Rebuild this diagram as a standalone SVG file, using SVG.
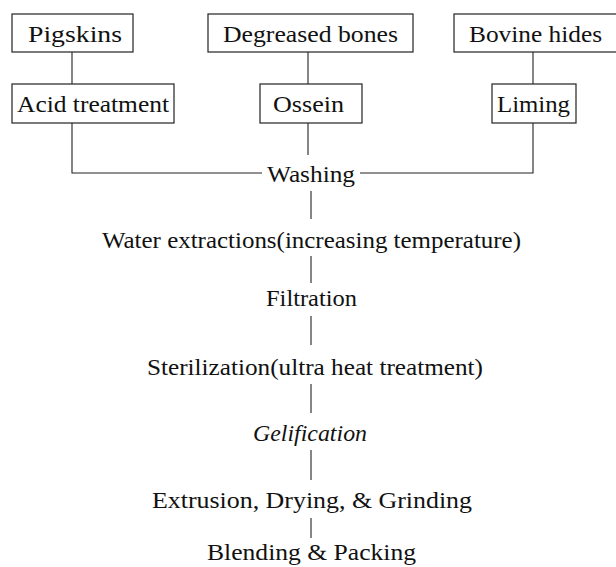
<svg xmlns="http://www.w3.org/2000/svg" width="616" height="567" viewBox="0 0 616 567">
<style>
.box{fill:#fff;stroke:#222;stroke-width:1.2}
.t{font-family:"Liberation Serif","Times New Roman",serif;font-size:24px;fill:#111}
.i{font-style:italic}
.c{stroke:#222;stroke-width:1.1;fill:none}
</style>
<rect width="616" height="567" fill="#fff"/>
<g id="connectors">
<line class="c" x1="72" y1="52" x2="72" y2="84"/>
<line class="c" x1="308" y1="52" x2="308" y2="84"/>
<line class="c" x1="533" y1="52" x2="533" y2="84"/>
<polyline class="c" points="72,123 72,173 262,173"/>
<polyline class="c" points="533,123 533,173 360,173"/>
<line class="c" x1="308" y1="123" x2="308" y2="155"/>
<line class="c" x1="311" y1="191" x2="311" y2="219"/>
<line class="c" x1="311" y1="256" x2="311" y2="283"/>
<line class="c" x1="311" y1="316" x2="311" y2="345"/>
<line class="c" x1="311" y1="384" x2="311" y2="413"/>
<line class="c" x1="311" y1="450" x2="311" y2="480"/>
<line class="c" x1="311" y1="518" x2="311" y2="538"/>
</g>
<g id="pigskins"><rect class="box" x="12" y="14" width="121" height="38"/><text class="t" x="28" y="42" textLength="94" lengthAdjust="spacingAndGlyphs">Pigskins</text></g>
<g id="degreased"><rect class="box" x="208" y="14" width="205" height="38"/><text class="t" x="223" y="42" textLength="175" lengthAdjust="spacingAndGlyphs">Degreased bones</text></g>
<g id="bovine"><rect class="box" x="454" y="14" width="166" height="38"/><text class="t" x="469" y="42" textLength="133" lengthAdjust="spacingAndGlyphs">Bovine hides</text></g>
<g id="acid"><rect class="box" x="12" y="84" width="162" height="39"/><text class="t" x="17" y="112" textLength="152" lengthAdjust="spacingAndGlyphs">Acid treatment</text></g>
<g id="ossein"><rect class="box" x="260" y="84" width="102" height="39"/><text class="t" x="273" y="112" textLength="71" lengthAdjust="spacingAndGlyphs">Ossein</text></g>
<g id="liming"><rect class="box" x="492" y="84" width="84" height="39"/><text class="t" x="497" y="112" textLength="73" lengthAdjust="spacingAndGlyphs">Liming</text></g>
<g id="washing"><text class="t" x="267" y="182" textLength="88" lengthAdjust="spacingAndGlyphs">Washing</text></g>
<g id="water"><text class="t" x="102" y="248" textLength="419" lengthAdjust="spacingAndGlyphs">Water extractions(increasing temperature)</text></g>
<g id="filtration"><text class="t" x="266" y="306" textLength="91" lengthAdjust="spacingAndGlyphs">Filtration</text></g>
<g id="sterilization"><text class="t" x="147" y="375" textLength="336" lengthAdjust="spacingAndGlyphs">Sterilization(ultra heat treatment)</text></g>
<g id="gelification"><text class="t i" x="253" y="441" textLength="114" lengthAdjust="spacingAndGlyphs">Gelification</text></g>
<g id="extrusion"><text class="t" x="152" y="508" textLength="320" lengthAdjust="spacingAndGlyphs">Extrusion, Drying, &amp; Grinding</text></g>
<g id="blending"><text class="t" x="207" y="560" textLength="209" lengthAdjust="spacingAndGlyphs">Blending &amp; Packing</text></g>
</svg>
